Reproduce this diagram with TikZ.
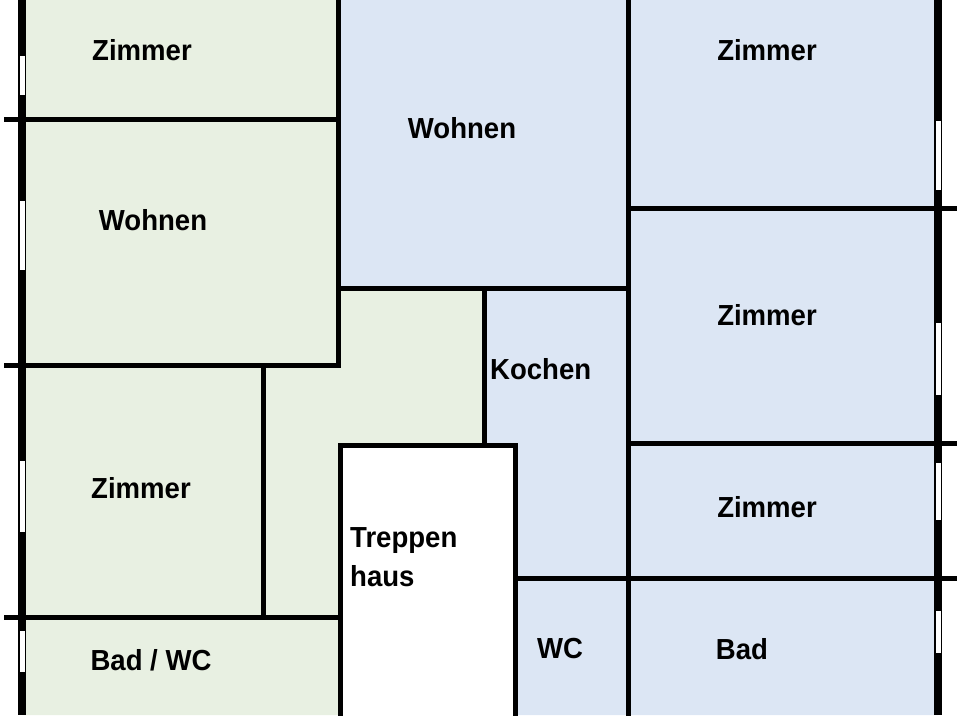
\documentclass[tikz,border=0pt]{standalone}
\usepackage{fontspec}
\setmainfont{Liberation Sans}
\begin{document}
\begin{tikzpicture}[x=1pt,y=-1pt,
  wall/.style={line width=5pt,line cap=rect},
  outer/.style={line width=8pt},
  win/.style={fill=white,draw=black,line width=0.6pt},
  lbl/.style={font=\bfseries\fontsize{29}{31}\selectfont,inner sep=0pt,xscale=0.95}]
\useasboundingbox (0,0) rectangle (960,715);
\definecolor{gr}{HTML}{E8F0E2}
\definecolor{bl}{HTML}{DCE6F4}
\fill[gr] (22,0)--(340,0)--(340,288)--(485,288)--(485,445)--(340,445)--(340,715)--(22,715)--cycle;
\fill[bl] (340,0)--(938,0)--(938,715)--(515,715)--(515,445)--(485,445)--(485,288)--(340,288)--cycle;
% outer walls
\draw[outer] (22,0)--(22,715);
\draw[outer] (938,0)--(938,715);
% windows
\foreach \a/\b in {55/95,200/270,460/532,630/672}
  \path[win] (19,\a) rectangle (25,\b);
\foreach \a/\b in {120/190,322/395,462/520,610/653}
  \path[win] (935,\a) rectangle (941,\b);
% interior walls left
\draw[wall] (6,119)--(338,119);
\draw[wall] (6,365)--(338,365);
\draw[wall] (6,617)--(338,617);
\draw[wall] (338,0)--(338,365);
\draw[wall] (263,365)--(263,617);
\draw[wall] (340,288)--(628,288);
\draw[wall] (484,288)--(484,445);
\draw[wall] (340,715)--(340,445)--(515,445)--(515,715);
% right
\draw[wall] (628,0)--(628,715);
\draw[wall] (628,208)--(954,208);
\draw[wall] (628,443)--(954,443);
\draw[wall] (515,578)--(954,578);
% labels
\node[lbl] (z1) at (142,50) {Zimmer};
\node[lbl] (w1) at (153,220) {Wohnen};
\node[lbl] (w2) at (462,128) {Wohnen};
\node[lbl] (z2) at (767,50) {Zimmer};
\node[lbl] (z3) at (767,315) {Zimmer};
\node[lbl,anchor=west] (k) at (490,369) {Kochen};
\node[lbl] (z4) at (141,488) {Zimmer};
\node[lbl] (z5) at (767,507) {Zimmer};
\node[lbl,anchor=west] (t1) at (350,541) {Treppen};
\node[lbl,anchor=west] (t2) at (350,576) {haus};
\node[lbl] (wc) at (560,649) {WC};
\node[lbl] (bad) at (742,649) {Bad};
\node[lbl] (bwc) at (151,660) {Bad / WC};
\end{tikzpicture}
\end{document}
